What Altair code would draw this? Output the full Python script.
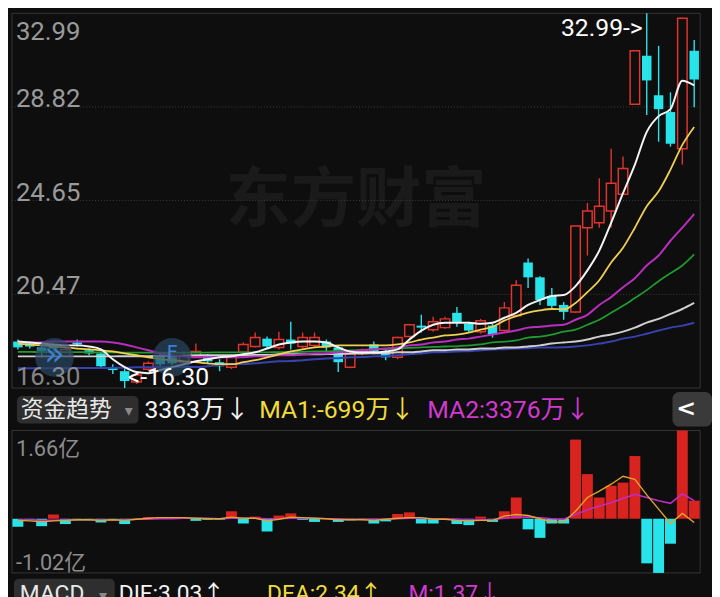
import altair as alt
import pandas as pd

# ---------------- data ----------------
opens = [18.37, 18.28, 18.11, 18.20, 17.71, 18.33, 17.98, 17.84, 17.23, 17.05,
         16.57, 17.14, 17.71, 17.67, 17.45, 17.71, 17.71, 17.45, 17.23, 17.89,
         18.15, 18.50, 18.11, 18.46, 18.15, 18.20, 18.37, 18.11, 17.23, 17.84,
         18.24, 17.84, 17.67, 18.59, 19.08, 18.90, 18.99, 19.65, 19.16, 18.81,
         19.08, 18.86, 19.52, 21.89, 21.23, 20.40, 20.00, 19.69, 23.44, 23.66,
         24.18, 24.93, 28.94, 31.10, 29.34, 28.59, 26.96, 31.32]
highs = [18.46, 18.37, 18.20, 18.28, 18.11, 18.46, 18.06, 17.89, 17.36, 17.23,
         16.96, 17.49, 17.80, 17.80, 17.93, 18.28, 17.80, 17.58, 17.80, 18.33,
         18.77, 18.59, 18.81, 19.25, 18.77, 18.77, 18.46, 18.20, 17.93, 18.06,
         18.37, 18.02, 18.59, 19.16, 19.56, 19.47, 19.47, 19.91, 19.25, 19.38,
         19.16, 20.13, 21.10, 22.07, 21.28, 20.75, 20.13, 23.52, 24.54, 25.64,
         26.96, 26.61, 31.36, 32.99, 31.54, 29.47, 32.77, 31.80]
lows = [18.02, 18.06, 17.67, 17.98, 17.67, 18.15, 17.76, 17.23, 16.92, 16.30,
        16.48, 17.05, 17.27, 17.32, 17.36, 17.67, 17.40, 17.05, 17.14, 17.80,
        18.11, 18.06, 18.02, 18.02, 18.06, 18.11, 17.89, 17.01, 17.18, 17.76,
        17.80, 17.54, 17.58, 18.55, 18.77, 18.81, 18.94, 19.03, 18.77, 18.72,
        18.55, 18.81, 19.47, 20.75, 20.00, 19.78, 19.34, 19.65, 22.20, 23.44,
        23.44, 24.93, 28.90, 28.46, 27.27, 27.05, 26.25, 28.81]
closes = [18.11, 18.15, 17.93, 18.06, 18.02, 18.24, 17.84, 17.27, 17.10, 16.61,
          16.88, 17.40, 17.36, 17.40, 17.71, 17.93, 17.49, 17.27, 17.67, 18.24,
          18.55, 18.15, 18.46, 18.28, 18.55, 18.55, 18.11, 17.45, 17.80, 17.98,
          17.93, 17.67, 18.55, 19.12, 18.99, 19.25, 19.38, 19.21, 18.86, 19.30,
          18.68, 19.87, 20.88, 21.23, 20.22, 19.96, 19.69, 23.52, 24.18, 24.40,
          25.42, 26.08, 31.32, 30.00, 28.72, 27.18, 32.77, 30.04]

ma5 = [18.37, 18.33, 18.28, 18.24, 18.20, 18.20, 18.15, 18.02, 17.58, 17.23,
       17.01, 16.96, 17.10, 17.23, 17.36, 17.49, 17.58, 17.67, 17.71, 17.80,
       17.89, 18.06, 18.24, 18.33, 18.37, 18.37, 18.33, 18.11, 17.93, 17.89,
       17.89, 17.93, 18.02, 18.46, 18.86, 19.12, 19.21, 19.21, 19.21, 19.16,
       19.21, 19.43, 19.65, 20.00, 20.22, 20.40, 20.44, 20.84, 21.54, 22.42,
       23.66, 24.98, 26.25, 27.71, 28.41, 28.72, 29.99, 29.78]
ma10 = [18.28, 18.24, 18.20, 18.15, 18.11, 18.06, 18.02, 17.98, 17.93, 17.84,
        17.76, 17.67, 17.58, 17.54, 17.49, 17.45, 17.40, 17.36, 17.36, 17.45,
        17.54, 17.67, 17.80, 17.93, 18.02, 18.11, 18.15, 18.20, 18.20, 18.20,
        18.20, 18.20, 18.24, 18.33, 18.46, 18.55, 18.64, 18.68, 18.77, 18.90,
        19.03, 19.30, 19.50, 19.66, 19.76, 19.82, 19.80, 20.09, 20.57, 21.10,
        21.89, 22.55, 23.44, 24.40, 25.06, 26.03, 27.13, 27.93]
ma20 = [18.33, 18.33, 18.33, 18.37, 18.37, 18.37, 18.37, 18.37, 18.33, 18.24,
        18.11, 17.98, 17.84, 17.76, 17.71, 17.67, 17.67, 17.67, 17.67, 17.67,
        17.71, 17.71, 17.76, 17.76, 17.80, 17.84, 17.84, 17.89, 17.93, 17.98,
        18.02, 18.06, 18.11, 18.20, 18.24, 18.33, 18.37, 18.46, 18.50, 18.59,
        18.68, 18.77, 18.86, 18.99, 19.03, 19.08, 19.12, 19.34, 19.56, 20.00,
        20.35, 20.79, 21.19, 21.76, 22.20, 22.86, 23.44, 24.05]
ma30 = [17.91, 17.91, 17.90, 17.90, 17.90, 17.90, 17.89, 17.89, 17.89, 17.88,
        17.88, 17.88, 17.88, 17.88, 17.88, 17.88, 17.88, 17.89, 17.89, 17.89,
        17.89, 17.89, 17.90, 17.90, 17.91, 17.93, 17.93, 17.96, 17.98, 18.00,
        18.02, 18.04, 18.06, 18.09, 18.11, 18.13, 18.15, 18.16, 18.20, 18.24,
        18.33, 18.37, 18.42, 18.55, 18.59, 18.68, 18.81, 18.90, 19.12, 19.34,
        19.65, 19.96, 20.31, 20.66, 21.06, 21.41, 21.76, 22.25]
ma60 = [17.71, 17.71, 17.71, 17.71, 17.71, 17.71, 17.71, 17.71, 17.71, 17.72,
        17.72, 17.72, 17.73, 17.73, 17.74, 17.76, 17.76, 17.76, 17.76, 17.76,
        17.77, 17.77, 17.80, 17.80, 17.80, 17.80, 17.81, 17.81, 17.84, 17.84,
        17.85, 17.86, 17.89, 17.89, 17.93, 17.98, 17.98, 18.02, 18.02, 18.06,
        18.06, 18.11, 18.11, 18.15, 18.20, 18.28, 18.33, 18.37, 18.46, 18.59,
        18.68, 18.81, 18.99, 19.21, 19.38, 19.60, 19.82, 20.09]
ma120 = [17.18, 17.18, 17.18, 17.18, 17.18, 17.19, 17.19, 17.19, 17.20, 17.20,
         17.23, 17.23, 17.23, 17.23, 17.24, 17.24, 17.27, 17.32, 17.36, 17.37,
         17.40, 17.45, 17.49, 17.50, 17.54, 17.58, 17.62, 17.63, 17.67, 17.68,
         17.71, 17.72, 17.76, 17.80, 17.84, 17.89, 17.90, 17.93, 17.94, 17.98,
         18.02, 18.03, 18.06, 18.07, 18.11, 18.11, 18.12, 18.15, 18.20, 18.28,
         18.37, 18.50, 18.59, 18.72, 18.86, 18.99, 19.08, 19.21]

flow = [-0.15, -0.02, -0.14, 0.08, -0.10, -0.03, -0.03, -0.07, -0.02, -0.10,
        -0.02, 0.03, 0.03, 0.02, 0.02, -0.04, -0.02, -0.02, 0.14, -0.09,
        0.04, -0.24, 0.06, 0.10, -0.02, -0.06, 0.01, -0.06, -0.03, -0.02,
        -0.09, -0.05, 0.09, 0.12, -0.09, -0.09, 0.01, -0.10, -0.12, 0.04,
        -0.06, 0.14, 0.40, -0.20, -0.36, -0.09, -0.09, 1.49, 0.84, 0.40,
        0.62, 0.68, 1.18, -0.84, -1.02, -0.47, 1.66, 0.34]
flow_ma1 = [-0.03, -0.04, -0.06, -0.04, -0.03, -0.02, -0.02, -0.03, -0.02, -0.03,
            -0.01, 0.01, 0.02, 0.02, 0.02, 0.01, 0.00, 0.00, 0.03, 0.01,
            0.01, -0.04, -0.01, 0.03, 0.02, 0.01, 0.00, -0.02, -0.02, -0.02,
            -0.03, -0.01, 0.01, 0.02, 0.02, -0.01, -0.01, -0.03, -0.04, -0.03,
            -0.03, 0.05, 0.08, 0.06, 0.00, -0.06, -0.06, 0.14, 0.40, 0.52,
            0.65, 0.80, 0.74, 0.45, 0.18, -0.09, 0.10, -0.07]
flow_ma2 = [-0.02, -0.02, -0.03, -0.03, -0.02, -0.02, -0.02, -0.02, -0.02, -0.02,
            -0.01, -0.01, 0.00, 0.00, 0.01, 0.01, 0.01, 0.00, 0.01, 0.01,
            0.01, 0.00, 0.00, 0.01, 0.01, 0.01, 0.00, 0.00, -0.01, -0.01,
            -0.01, -0.01, 0.00, 0.01, 0.01, 0.00, 0.00, -0.01, -0.02, -0.02,
            -0.02, 0.01, 0.03, 0.03, 0.02, 0.00, -0.01, 0.08, 0.17, 0.24,
            0.30, 0.38, 0.46, 0.40, 0.34, 0.29, 0.47, 0.34]

price_ticks = [32.99, 28.82, 24.65, 20.47, 16.30]
flow_ticks = [1.66, -1.02]
flow_tick_labels = ["1.66亿", "-1.02亿"]
ma_names = ["MA120", "MA60", "MA30", "MA20", "MA10", "MA5"]
header_texts = ["资金趋势", "3363万↓", "MA1:-699万↓", "MA2:3376万↓"]
macd_texts = ["MACD", "DIF:3.03↑", "DEA:2.34↑", "M:1.37↓"]

# ---------------- styles ----------------
BG = "#0e0e0e"
FRAME = "#363636"
LABEL = "#9a9a9a"
RED = "#e0342c"
CYAN = "#27e4ea"
MA_COLORS = {"MA5": "#f4f4f4", "MA10": "#f0d050", "MA20": "#b82fbf",
             "MA30": "#1f9a2e", "MA60": "#cfcfcf", "MA120": "#3742b0"}
MA_WIDTHS = {"MA5": 2.0, "MA10": 1.8, "MA20": 2.0, "MA30": 1.8, "MA60": 2.0, "MA120": 2.0}
YELLOW_T = "#f0dc3c"
MAGENTA_T = "#d03ad0"
NUMFONT = "Roboto, Noto Sans CJK SC"
CJK = "Noto Sans CJK SC"

n = len(closes)
idx = list(range(n))

cdf = pd.DataFrame({"i": idx, "open": opens, "high": highs, "low": lows, "close": closes})
cdf["btm"] = cdf[["open", "close"]].min(axis=1)
cdf["top"] = cdf[["open", "close"]].max(axis=1)
cdf["xl"] = cdf["i"] - 0.4
cdf["xr"] = cdf["i"] + 0.4
up = cdf[cdf["close"] >= cdf["open"]]
dn = cdf[cdf["close"] < cdf["open"]]

ma_series = {"MA5": ma5, "MA10": ma10, "MA20": ma20, "MA30": ma30, "MA60": ma60, "MA120": ma120}

fdf = pd.DataFrame({"i": idx, "v": flow})
fdf["xl"] = fdf["i"] - 0.46
fdf["xr"] = fdf["i"] + 0.46

xs = alt.Scale(domain=[-0.5, n - 0.5], range=[4, 700], nice=False, zero=False)
yp = alt.Scale(domain=[min(price_ticks), max(price_ticks)], range=[381, 2], nice=False, zero=False)
yf = alt.Scale(domain=[min(flow_ticks), max(flow_ticks)], range=[568, 424], nice=False, zero=False)


def X(f):
    return alt.X(f, scale=xs, axis=None)


def YP(f):
    return alt.Y(f, scale=yp, axis=None)


def YF(f):
    return alt.Y(f, scale=yf, axis=None)


def txt(t, x, y, color, size, font=NUMFONT, align="left", baseline="middle", weight="normal"):
    return alt.Chart(pd.DataFrame({"t": [t]})).mark_text(
        align=align, baseline=baseline, color=color, fontSize=size, font=font, fontWeight=weight
    ).encode(x=alt.value(x), y=alt.value(y), text="t:N")


def box(x0, x1, y0, y1, color, r=5):
    return alt.Chart(pd.DataFrame({"a": [0]})).mark_rect(color=color, cornerRadius=r).encode(
        x=alt.value(x0), x2=alt.value(x1), y=alt.value(y0), y2=alt.value(y1))


# ---------------- price panel ----------------
frame_p = alt.Chart(pd.DataFrame({"x0": [-0.5], "x1": [n - 0.5], "y0": [min(price_ticks)], "y1": [max(price_ticks)]})).mark_rect(
    fillOpacity=0, stroke=FRAME, strokeWidth=1).encode(x=X("x0:Q"), x2="x1:Q", y=YP("y0:Q"), y2="y1:Q")

grid = alt.Chart(pd.DataFrame({"v": price_ticks[1:-1], "x0": -0.5, "x1": n - 0.5})).mark_rule(
    color="#3c3c3c", strokeWidth=1, strokeDash=[1, 2]).encode(x=X("x0:Q"), x2="x1:Q", y=YP("v:Q"))

watermark = txt("东方财富", 352, 192, "#1a1a1a", 66, font=CJK, align="center", weight="bold")

wick_up = alt.Chart(up).mark_rule(color=RED, strokeWidth=1.4).encode(x=X("i:Q"), y=YP("low:Q"), y2="high:Q")
wick_dn = alt.Chart(dn).mark_rule(color=CYAN, strokeWidth=1.4).encode(x=X("i:Q"), y=YP("low:Q"), y2="high:Q")
body_up = alt.Chart(up).mark_rect(fill=BG, stroke=RED, strokeWidth=1.5).encode(
    x=X("xl:Q"), x2="xr:Q", y=YP("btm:Q"), y2="top:Q")
body_dn = alt.Chart(dn).mark_rect(color=CYAN).encode(x=X("xl:Q"), x2="xr:Q", y=YP("btm:Q"), y2="top:Q")

ma_layers = [
    alt.Chart(pd.DataFrame({"i": idx, "v": ma_series[name]})).mark_line(
        interpolate="monotone", color=MA_COLORS[name], strokeWidth=MA_WIDTHS[name]
    ).encode(x=X("i:Q"), y=YP("v:Q"))
    for name in ma_names
]

circ1 = alt.Chart(pd.DataFrame({"a": [0]})).mark_circle(
    size=1520, color="#2a4663", opacity=0.7).encode(x=alt.value(47), y=alt.value(350))
circ2 = alt.Chart(pd.DataFrame({"a": [0]})).mark_circle(
    size=1520, color="#2a4663", opacity=0.7).encode(x=alt.value(166), y=alt.value(350))
icon1 = alt.Chart(pd.DataFrame({"t": ["»"]})).mark_text(align="center", baseline="middle", color="#3f7fd0",
                                                        fontSize=34, font="DejaVu Sans").encode(
    x=alt.value(47), y=alt.value(348), text="t:N")
icon2 = alt.Chart(pd.DataFrame({"t": ["F"]})).mark_text(align="center", baseline="middle", color="#3f7fd0",
                                                        fontSize=20, font="DejaVu Sans").encode(
    x=alt.value(166), y=alt.value(346), text="t:N")

lab_df = pd.DataFrame({"v": price_ticks, "t": [f"{p:.2f}" for p in price_ticks]})
lab_top = alt.Chart(lab_df.iloc[[0]]).mark_text(align="left", baseline="alphabetic", dy=27, fontSize=26,
                                                 font="Roboto", color=LABEL).encode(x=alt.value(8), y=YP("v:Q"), text="t:N")
lab_mid = alt.Chart(lab_df.iloc[1:-1]).mark_text(align="left", baseline="alphabetic", dy=0, fontSize=26,
                                                  font="Roboto", color=LABEL).encode(x=alt.value(8), y=YP("v:Q"), text="t:N")
lab_bot = alt.Chart(lab_df.iloc[[-1]]).mark_text(align="left", baseline="alphabetic", dy=-3, fontSize=26,
                                                  font="Roboto", color=LABEL, opacity=0.85).encode(x=alt.value(8), y=YP("v:Q"), text="t:N")

imax = highs.index(max(highs))
imin = lows.index(min(lows))
hi_df = pd.DataFrame({"i": [imax], "v": [max(highs)], "t": [f"{max(highs):.2f}->"]})
lo_df = pd.DataFrame({"i": [imin], "v": [min(lows)], "t": [f"<-{min(lows):.2f}"]})
hi_lab = alt.Chart(hi_df).mark_text(align="right", baseline="alphabetic", dx=-4, dy=23, fontSize=25,
                                    font="Roboto", color="#ffffff").encode(x=X("i:Q"), y=YP("v:Q"), text="t:N")
lo_lab = alt.Chart(lo_df).mark_text(align="left", baseline="alphabetic", dx=3, dy=-3, fontSize=25,
                                    font="Roboto", color="#ffffff").encode(x=X("i:Q"), y=YP("v:Q"), text="t:N")

price = alt.layer(watermark, frame_p, grid, wick_up, wick_dn, body_up, body_dn, *ma_layers,
                  circ1, circ2, icon1, icon2, lab_top, lab_mid, lab_bot, hi_lab, lo_lab)

# ---------------- flow panel ----------------
frame_f = alt.Chart(pd.DataFrame({"x0": [-0.5], "x1": [n - 0.5], "y0": [min(flow_ticks)], "y1": [max(flow_ticks)]})).mark_rect(
    fillOpacity=0, stroke=FRAME, strokeWidth=1).encode(x=X("x0:Q"), x2="x1:Q", y=YF("y0:Q"), y2="y1:Q")
bars = alt.Chart(fdf).mark_rect().encode(
    x=X("xl:Q"), x2="xr:Q", y=YF("v:Q"), y2=alt.datum(0),
    color=alt.condition("datum.v >= 0", alt.value("#d8231f"), alt.value(CYAN)),
)
fline2 = alt.Chart(pd.DataFrame({"i": idx, "v": flow_ma2})).mark_line(strokeWidth=1.6, color="#c22cc2").encode(
    x=X("i:Q"), y=YF("v:Q"))
fline1 = alt.Chart(pd.DataFrame({"i": idx, "v": flow_ma1})).mark_line(strokeWidth=1.4, color="#e3a42a").encode(
    x=X("i:Q"), y=YF("v:Q"))
fl_lab_df = pd.DataFrame({"v": flow_ticks, "t": flow_tick_labels})
fl_top = alt.Chart(fl_lab_df.iloc[[0]]).mark_text(align="left", baseline="alphabetic", dy=26, fontSize=22,
                                                   font=NUMFONT, color="#8c8c8c").encode(x=alt.value(8), y=YF("v:Q"), text="t:N")
fl_bot = alt.Chart(fl_lab_df.iloc[[1]]).mark_text(align="left", baseline="alphabetic", dy=-3, fontSize=22,
                                                   font=NUMFONT, color="#8c8c8c").encode(x=alt.value(8), y=YF("v:Q"), text="t:N")
flowp = alt.layer(frame_f, bars, fline2, fline1, fl_top, fl_bot)

# ---------------- header / UI ----------------
ui = alt.layer(
    box(9, 132, 389, 417, "#2e2e2e"),
    txt(header_texts[0], 13, 403, "#e8e8e8", 23, font=CJK),
    txt("▾", 122, 404, "#8a8a8a", 16, font="DejaVu Sans", align="center"),
    txt(header_texts[1], 138, 403, "#f4f4f4", 25),
    txt(header_texts[2], 254, 403, YELLOW_T, 25),
    txt(header_texts[3], 424, 403, MAGENTA_T, 25),
    box(672, 712, 385, 420, "#3a3a3a", 7),
    txt("<", 686, 402, "#ffffff", 24, font="DejaVu Sans", align="center", weight="bold"),
    box(6, 108, 574, 606, "#2e2e2e"),
    txt(macd_texts[0], 12, 596, "#e8e8e8", 23, baseline="alphabetic"),
    txt("▾", 96, 596, "#8a8a8a", 16, font="DejaVu Sans", align="center", baseline="alphabetic"),
    txt(macd_texts[1], 112, 596, "#f4f4f4", 23, baseline="alphabetic"),
    txt(macd_texts[2], 262, 596, YELLOW_T, 23, baseline="alphabetic"),
    txt(macd_texts[3], 405, 596, MAGENTA_T, 23, baseline="alphabetic"),
)

chart = alt.layer(price, flowp, ui).resolve_scale(y="independent").properties(
    width=712, height=589, autosize=alt.AutoSizeParams(type="none"), padding=0
).configure(background=BG).configure_view(strokeWidth=0)

chart.save("out.html", embed_options={"renderer": "svg", "actions": False})
